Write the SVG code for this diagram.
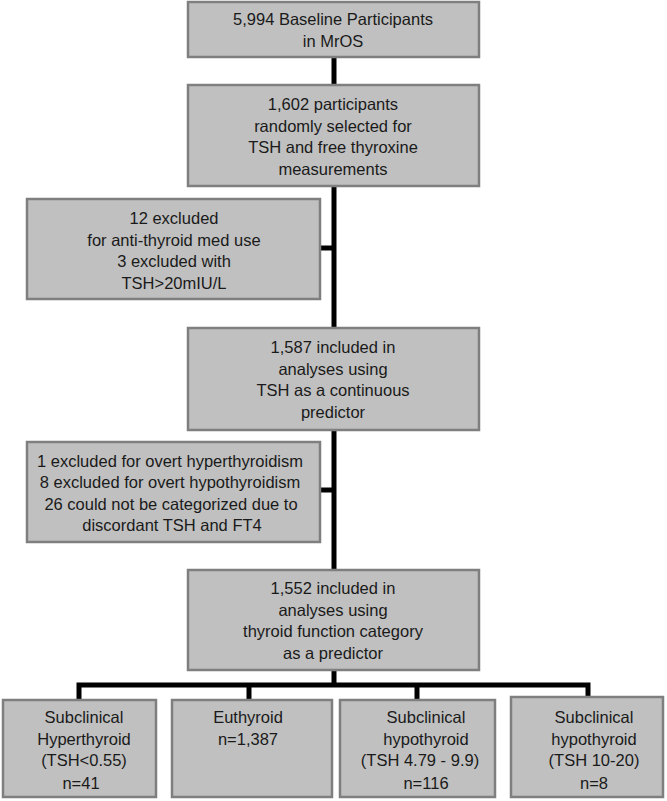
<svg xmlns="http://www.w3.org/2000/svg" width="667" height="801" viewBox="0 0 667 801">
<style>
.box{fill:#c0c0c0;stroke:#7f7f7f;stroke-width:2.5}
text{font-family:"Liberation Sans",Arial,sans-serif;font-size:16.5px;fill:#1a1a1a;text-anchor:middle}
.conn{stroke:#000;stroke-width:5;fill:none}
</style>
<rect width="667" height="801" fill="#fff"/>
<g id="connectors">
<line class="conn" x1="334" y1="57" x2="334" y2="685"/>
<line class="conn" x1="320" y1="248" x2="334" y2="248"/>
<line class="conn" x1="320" y1="490" x2="334" y2="490"/>
<polyline class="conn" points="79,700 79,685 588,685 588,698"/>
<line class="conn" x1="249" y1="685" x2="249" y2="700"/>
<line class="conn" x1="417" y1="685" x2="417" y2="700"/>
</g>
<g id="baseline">
<rect class="box" x="188" y="2" width="291" height="55"/>
<text x="333" y="25">5,994 Baseline Participants</text>
<text x="333" y="47">in MrOS</text>
</g>
<g id="selected">
<rect class="box" x="188" y="85" width="291" height="101"/>
<text x="333" y="110">1,602 participants</text>
<text x="333" y="131.5">randomly selected for</text>
<text x="333" y="153">TSH and free thyroxine</text>
<text x="333" y="174.5">measurements</text>
</g>
<g id="excluded1">
<rect class="box" x="27" y="199" width="293" height="100"/>
<text x="174" y="224">12 excluded</text>
<text x="174" y="245.5">for anti-thyroid med use</text>
<text x="174" y="267">3 excluded with</text>
<text x="174" y="289">TSH&gt;20mIU/L</text>
</g>
<g id="included1">
<rect class="box" x="188" y="328" width="291" height="102"/>
<text x="333" y="353">1,587 included in</text>
<text x="333" y="374.5">analyses using</text>
<text x="333" y="396">TSH as a continuous</text>
<text x="333" y="417.5">predictor</text>
</g>
<g id="excluded2">
<rect class="box" x="27" y="442" width="293" height="100"/>
<text x="170" y="467">1 excluded for overt hyperthyroidism</text>
<text x="170" y="488">8 excluded for overt hypothyroidism</text>
<text x="171" y="509.5">26 could not be categorized due to</text>
<text x="172" y="531">discordant TSH and FT4</text>
</g>
<g id="included2">
<rect class="box" x="188" y="570" width="291" height="100"/>
<text x="333" y="594">1,552 included in</text>
<text x="333" y="616">analyses using</text>
<text x="333" y="637">thyroid function category</text>
<text x="333" y="659">as a predictor</text>
</g>
<g id="hyper">
<rect class="box" x="3" y="700" width="153" height="97"/>
<text x="84" y="723">Subclinical</text>
<text x="84" y="745">Hyperthyroid</text>
<text x="84" y="766">(TSH&lt;0.55)</text>
<text x="81" y="789">n=41</text>
</g>
<g id="euthyroid">
<rect class="box" x="172" y="700" width="160" height="97"/>
<text x="248" y="723">Euthyroid</text>
<text x="248" y="745">n=1,387</text>
</g>
<g id="hypo1">
<rect class="box" x="340" y="700" width="155" height="97"/>
<text x="426" y="723">Subclinical</text>
<text x="426" y="745">hypothyroid</text>
<text x="420" y="766">(TSH 4.79 - 9.9)</text>
<text x="426" y="789">n=116</text>
</g>
<g id="hypo2">
<rect class="box" x="511" y="697" width="152" height="100"/>
<text x="594" y="723">Subclinical</text>
<text x="594" y="745">hypothyroid</text>
<text x="594" y="766">(TSH 10-20)</text>
<text x="594" y="789">n=8</text>
</g>
</svg>
